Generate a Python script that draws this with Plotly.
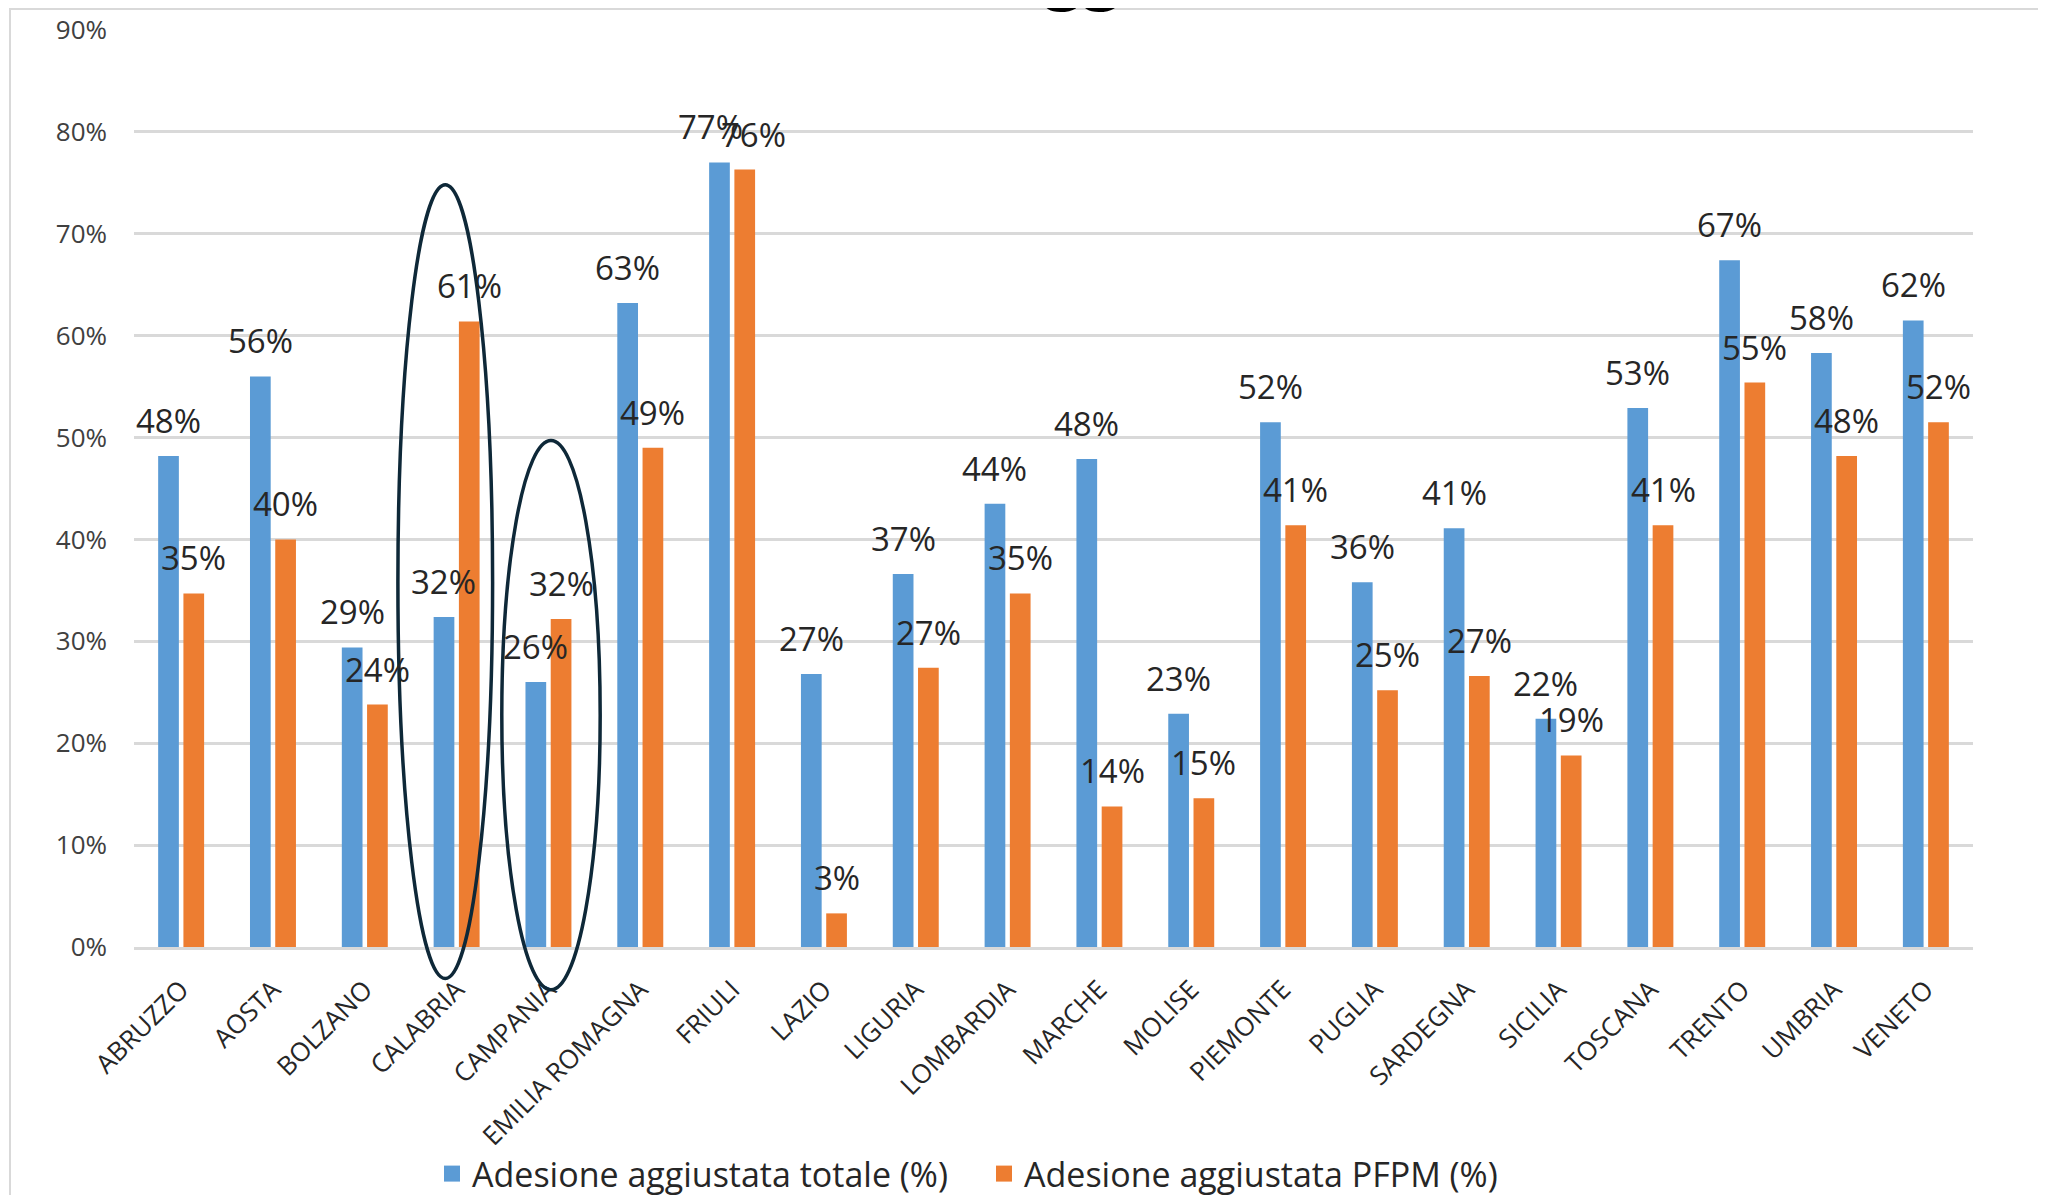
import plotly.graph_objects as go

regions = ["ABRUZZO", "AOSTA", "BOLZANO", "CALABRIA", "CAMPANIA", "EMILIA ROMAGNA",
           "FRIULI", "LAZIO", "LIGURIA", "LOMBARDIA", "MARCHE", "MOLISE", "PIEMONTE",
           "PUGLIA", "SARDEGNA", "SICILIA", "TOSCANA", "TRENTO", "UMBRIA", "VENETO"]
adesione_totale = [48.2, 56.0, 29.4, 32.4, 26.0, 63.2, 77.0, 26.8, 36.6, 43.5,
                   47.9, 22.9, 51.5, 35.8, 41.1, 22.4, 52.9, 67.4, 58.3, 61.5]
adesione_pfpm = [34.7, 40.0, 23.8, 61.4, 32.2, 49.0, 76.3, 3.3, 27.4, 34.7,
                 13.8, 14.6, 41.4, 25.2, 26.6, 18.8, 41.4, 55.4, 48.2, 51.5]
series_names = ["Adesione aggiustata totale (%)", "Adesione aggiustata PFPM (%)"]
y_ticks = [0, 10, 20, 30, 40, 50, 60, 70, 80, 90]
y_tick_labels = [f"{t}%" for t in y_ticks]

# highlighted regions (ellipses): category, horizontal extent (in category units), vertical extent (%)
highlight_regions = ["CALABRIA", "CAMPANIA"]
highlight_dx = [(-0.63, 0.40), (-0.50, 0.57)]
highlight_dy = [(-3.1, 74.8), (-4.2, 49.7)]

BLUE = "#5B9BD5"
ORANGE = "#ED7D31"
FONT = "Open Sans"
W, H = 2046, 1195
ML, MR, MT, MB = 126, 81, 22, 256
plot_w = W - ML - MR
plot_h = H - MT - MB

fig = go.Figure()
fig.add_trace(go.Bar(x=regions, y=adesione_totale, name=series_names[0], showlegend=False,
                     marker=dict(color=BLUE, line=dict(width=0))))
fig.add_trace(go.Bar(x=regions, y=adesione_pfpm, name=series_names[1], showlegend=False,
                     marker=dict(color=ORANGE, line=dict(width=0))))
# legend entries (square swatches)
for nm, col in zip(series_names, (BLUE, ORANGE)):
    fig.add_trace(go.Scatter(x=[None], y=[None], mode="markers", name=nm,
                             marker=dict(symbol="square", size=16, color=col)))

BARGAP, GROUPGAP = 0.45, 0.18
slot = plot_w / len(regions)
off = slot * (1 - BARGAP) / 4

annotations = []
for vals, sh in ((adesione_totale, -off), (adesione_pfpm, off)):
    for r, v in zip(regions, vals):
        nudge = 0
        if r == "FRIULI":
            nudge = -9 if sh < 0 else 9
        annotations.append(dict(x=r, y=v, xref="x", yref="y", text=f"{round(v)}%",
                                showarrow=False, xanchor="center", yanchor="bottom",
                                xshift=sh + nudge, yshift=11,
                                font=dict(family=FONT, size=33, color="#262626")))

# partially visible title fragment at the top edge
annotations.append(dict(x=(1074 - ML) / plot_w, y=1.0, xref="paper", yref="paper",
                        text="<b>gg</b>", showarrow=False, xanchor="center", yanchor="bottom",
                        yshift=12, font=dict(family=FONT, size=68, color="#000000")))

shapes = []
n = len(regions)
for reg, (dx0, dx1), (dy0, dy1) in zip(highlight_regions, highlight_dx, highlight_dy):
    i = regions.index(reg)
    shapes.append(dict(type="circle", xref="x domain", yref="y domain",
                       x0=(i + 0.5 + dx0) / n, x1=(i + 0.5 + dx1) / n,
                       y0=dy0 / y_ticks[-1], y1=dy1 / y_ticks[-1],
                       line=dict(color="#0E2838", width=3.5), layer="above"))
# outer chart-area border (left and top visible)
shapes.append(dict(type="rect", xref="paper", yref="paper",
                   x0=(2 - ML) / plot_w, x1=1.2, y0=-0.4, y1=(plot_h + MT - 1) / plot_h,
                   line=dict(color="#D9D9D9", width=2), fillcolor="rgba(0,0,0,0)", layer="below"))

fig.update_layout(
    width=W, height=H,
    margin=dict(l=ML, r=MR, t=MT, b=MB, autoexpand=False),
    paper_bgcolor="white", plot_bgcolor="white",
    barmode="group", bargap=BARGAP, bargroupgap=GROUPGAP,
    font=dict(family=FONT, color="#404040"),
    showlegend=True,
    legend=dict(orientation="h", xref="container", yref="container",
                x=424 / W, xanchor="left", y=(H - 1166) / H, yanchor="middle",
                font=dict(family=FONT, size=34, color="#262626"),
                itemwidth=30, traceorder="normal", entrywidth=507, entrywidthmode="pixels"),
    annotations=annotations,
    shapes=shapes,
    xaxis=dict(type="category", tickangle=-45, tickfont=dict(family=FONT, size=26, color="#262626"),
               showgrid=False, showline=True, linecolor="#D9D9D9", linewidth=3,
               ticks="", ticklabelstandoff=14, automargin=False),
    yaxis=dict(range=[0, y_ticks[-1]], tickmode="array", tickvals=y_ticks, ticktext=y_tick_labels,
               tickfont=dict(family=FONT, size=26, color="#404040"),
               showgrid=True, gridcolor="#D9D9D9", gridwidth=3, zeroline=False,
               showline=False, ticks="", ticklabelstandoff=26, automargin=False),
)

fig.write_html("out.html")
